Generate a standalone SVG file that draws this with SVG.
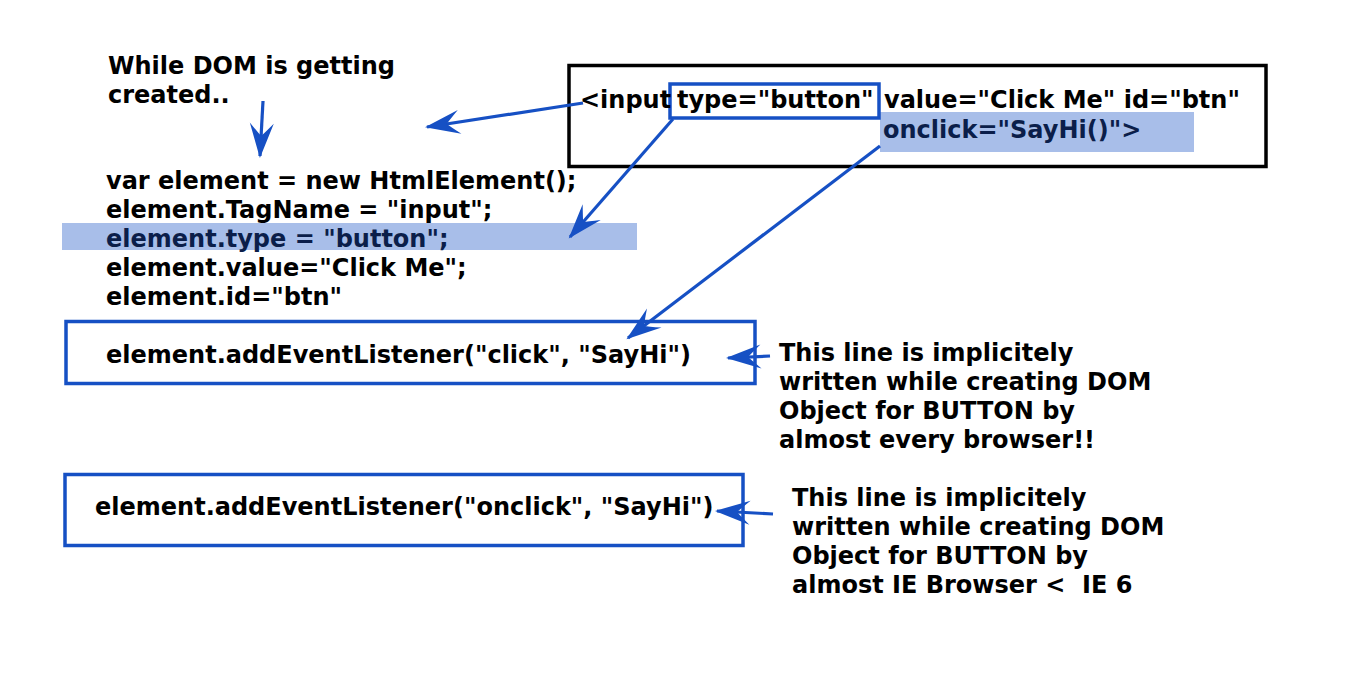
<svg xmlns="http://www.w3.org/2000/svg" width="1366" height="697" viewBox="0 0 1366 697">
<defs>
<style>
text{font-family:"DejaVu Sans","Verdana",sans-serif;font-weight:bold;font-size:24px;fill:#000;white-space:pre}
.hl{fill:#0b1e4a}
.hlbox{fill:#a8bee9;stroke:none}
.bbox{fill:none;stroke:#1650c4;stroke-width:3.5}
.kbox{fill:none;stroke:#000;stroke-width:3.5}
.conn{fill:none;stroke:#1650c4;stroke-width:3.2;marker-end:url(#ah)}
</style>
<marker id="ah" viewBox="-36 -14 40 28" refX="0" refY="0" markerWidth="40" markerHeight="28" markerUnits="userSpaceOnUse" orient="auto">
<path d="M2,0 L-33,-12 Q-23,-3 -20,0 Q-23,3 -33,12 Z" fill="#1650c4"/>
</marker>
</defs>
<rect width="1366" height="697" fill="#fff"/>

<g id="note-dom">
<text x="108" y="74">While DOM is getting</text>
<text x="108" y="103">created..</text>
</g>

<g id="html-input">
<rect class="kbox" x="569" y="65.5" width="697" height="101"/>
<rect class="hlbox" x="880" y="112" width="314" height="40"/>
<rect class="bbox" x="670" y="84" width="209" height="34"/>
<text x="580" y="108">&lt;input</text>
<text x="677" y="108">type="button"</text>
<text x="884" y="108">value="Click Me" id="btn"</text>
<text class="hl" x="883" y="138">onclick="SayHi()"&gt;</text>
</g>

<g id="code-block">
<rect class="hlbox" x="62" y="223" width="575" height="27"/>
<text x="106" y="189">var element = new HtmlElement();</text>
<text x="106" y="218">element.TagName = "input";</text>
<text class="hl" x="106" y="247">element.type = "button";</text>
<text x="106" y="276">element.value="Click Me";</text>
<text x="106" y="305">element.id="btn"</text>
</g>

<g id="listener-click">
<rect class="bbox" x="66" y="321.5" width="689" height="62"/>
<text x="106" y="363">element.addEventListener("click", "SayHi")</text>
</g>

<g id="note-click">
<text x="779" y="361">This line is implicitely</text>
<text x="779" y="390">written while creating DOM</text>
<text x="779" y="419">Object for BUTTON by</text>
<text x="779" y="448">almost every browser!!</text>
</g>

<g id="listener-onclick">
<rect class="bbox" x="65" y="474.5" width="678" height="71"/>
<text x="95" y="515">element.addEventListener("onclick", "SayHi")</text>
</g>

<g id="note-onclick">
<text x="792" y="506">This line is implicitely</text>
<text x="792" y="535">written while creating DOM</text>
<text x="792" y="564">Object for BUTTON by</text>
<text x="792" y="593">almost IE Browser &lt;  IE 6</text>
</g>

<g id="connectors">
<path class="conn" d="M263,101 L260,156"/>
<path class="conn" d="M583,103 L427,127"/>
<path class="conn" d="M673,119 L570,237"/>
<path class="conn" d="M880,146 L628,338"/>
<path class="conn" d="M770,356 L728,358"/>
<path class="conn" d="M773,514 L717,511"/>
</g>
</svg>
